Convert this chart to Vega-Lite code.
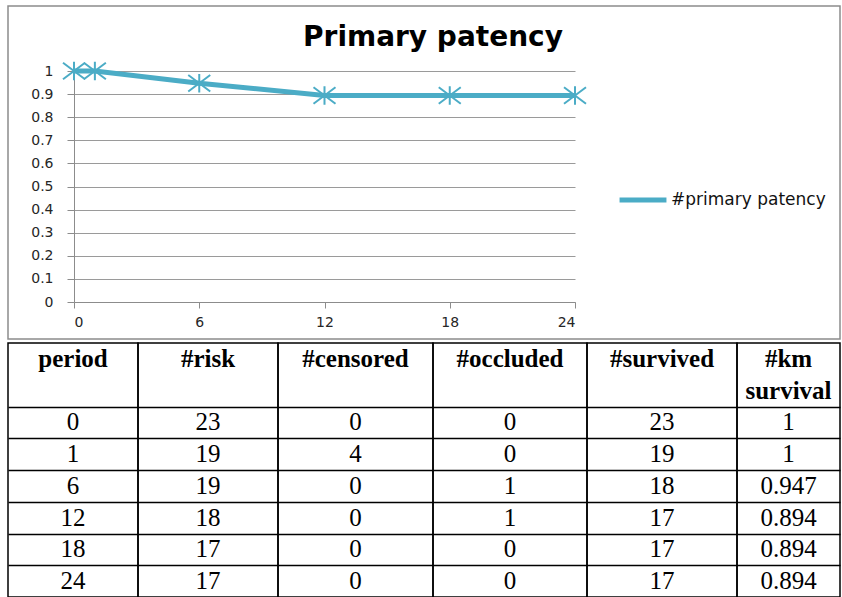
{
  "$schema": "https://vega.github.io/schema/vega-lite/v6.json",
  "padding": {"left": 7, "top": 5, "right": 0, "bottom": 0},
  "background": "white",
  "spacing": 2,
  "config": {"view": {"stroke": null}},
  "datasets": {
    "km": [
      {"month": 0, "km": 1},
      {"month": 1, "km": 1},
      {"month": 6, "km": 0.947},
      {"month": 12, "km": 0.894},
      {"month": 18, "km": 0.894},
      {"month": 24, "km": 0.894}
    ],
    "cells": [
      {"r": "H1", "c": "period", "t": "period"},
      {"r": "H1", "c": "risk", "t": "#risk"},
      {"r": "H1", "c": "censored", "t": "#censored"},
      {"r": "H1", "c": "occluded", "t": "#occluded"},
      {"r": "H1", "c": "survived", "t": "#survived"},
      {"r": "H1", "c": "km", "t": "#km"},
      {"r": "H2", "c": "km", "t": "survival"},
      {"r": "0", "c": "period", "t": "0"},
      {"r": "0", "c": "risk", "t": "23"},
      {"r": "0", "c": "censored", "t": "0"},
      {"r": "0", "c": "occluded", "t": "0"},
      {"r": "0", "c": "survived", "t": "23"},
      {"r": "0", "c": "km", "t": "1"},
      {"r": "1", "c": "period", "t": "1"},
      {"r": "1", "c": "risk", "t": "19"},
      {"r": "1", "c": "censored", "t": "4"},
      {"r": "1", "c": "occluded", "t": "0"},
      {"r": "1", "c": "survived", "t": "19"},
      {"r": "1", "c": "km", "t": "1"},
      {"r": "6", "c": "period", "t": "6"},
      {"r": "6", "c": "risk", "t": "19"},
      {"r": "6", "c": "censored", "t": "0"},
      {"r": "6", "c": "occluded", "t": "1"},
      {"r": "6", "c": "survived", "t": "18"},
      {"r": "6", "c": "km", "t": "0.947"},
      {"r": "12", "c": "period", "t": "12"},
      {"r": "12", "c": "risk", "t": "18"},
      {"r": "12", "c": "censored", "t": "0"},
      {"r": "12", "c": "occluded", "t": "1"},
      {"r": "12", "c": "survived", "t": "17"},
      {"r": "12", "c": "km", "t": "0.894"},
      {"r": "18", "c": "period", "t": "18"},
      {"r": "18", "c": "risk", "t": "17"},
      {"r": "18", "c": "censored", "t": "0"},
      {"r": "18", "c": "occluded", "t": "0"},
      {"r": "18", "c": "survived", "t": "17"},
      {"r": "18", "c": "km", "t": "0.894"},
      {"r": "24", "c": "period", "t": "24"},
      {"r": "24", "c": "risk", "t": "17"},
      {"r": "24", "c": "censored", "t": "0"},
      {"r": "24", "c": "occluded", "t": "0"},
      {"r": "24", "c": "survived", "t": "17"},
      {"r": "24", "c": "km", "t": "0.894"}
    ]
  },
  "vconcat": [
    {
      "width": 832,
      "height": 333,
      "view": {"stroke": "#8c8c8c", "strokeWidth": 1.5},
      "title": {"text": "Primary patency", "font": "DejaVu Sans", "fontSize": 28, "fontWeight": "bold", "color": "#000000", "anchor": "middle", "frame": "group", "offset": -46, "dx": 9},
      "data": {"name": "km"},
      "encoding": {
        "x": {"field": "month", "type": "quantitative", "scale": {"domain": [0, 24], "range": [66, 567], "nice": false, "zero": false},
          "axis": {"values": [0, 6, 12, 18, 24], "tickCount": 5, "offset": -37, "title": null, "grid": false, "domainColor": "#8c8c8c", "tickColor": "#8c8c8c", "tickSize": 6, "labelFont": "DejaVu Sans", "labelFontSize": 14, "labelColor": "#262626", "labelPadding": 7}},
        "y": {"field": "km", "type": "quantitative", "scale": {"domain": [0, 1], "range": [296, 65], "nice": false},
          "axis": {"values": [0, 0.1, 0.2, 0.3, 0.4, 0.5, 0.6, 0.7, 0.8, 0.9, 1], "tickCount": 11, "labelOverlap": false, "format": "~g", "offset": -66, "title": null, "grid": true, "gridColor": "#9a9a9a", "gridWidth": 1, "domainColor": "#8c8c8c", "tickColor": "#8c8c8c", "tickSize": 7, "labelFont": "DejaVu Sans", "labelFontSize": 14, "labelColor": "#262626", "labelPadding": 14}}
      },
      "layer": [
        {
          "mark": {"type": "line", "strokeWidth": 5},
          "encoding": {
            "color": {"datum": "#primary patency", "type": "nominal", "scale": {"range": ["#4BACC6"]},
              "legend": {"orient": "none", "legendX": 609, "legendY": 168, "title": null, "padding": 0, "symbolType": "stroke", "symbolStrokeWidth": 5, "symbolSize": 2200, "labelFont": "DejaVu Sans", "labelFontSize": 17, "labelColor": "#111111", "labelOffset": 2}}
          }
        },
        {
          "mark": {"type": "point", "shape": "M-1,-0.75L1,0.75M-1,0.75L1,-0.75M0,-0.85L0,0.85", "filled": false, "size": 484, "strokeWidth": 2, "color": "#4BACC6", "opacity": 1}
        }
      ]
    },
    {
      "spacing": 0,
      "bounds": "flush",
      "hconcat": [
        {
          "width": 130, "height": 254,
          "view": {"stroke": "black", "strokeWidth": 1.5},
          "data": {"name": "cells"},
          "transform": [{"filter": "datum.c === 'period'"}],
          "encoding": {
            "y": {"field": "r", "type": "ordinal", "scale": {"domain": ["H1", "H2", "0", "1", "6", "12", "18", "24"], "paddingInner": 0, "paddingOuter": 0},
              "axis": {"values": ["0", "1", "6", "12", "18"], "grid": true, "gridColor": "black", "gridWidth": 1.5, "gridOpacity": 1, "tickBand": "extent", "labels": false, "ticks": false, "domain": false, "title": null}},
            "text": {"field": "t", "type": "nominal"}
          },
          "layer": [
            {"transform": [{"filter": "datum.r === 'H1' || datum.r === 'H2'"}], "mark": {"type": "text", "font": "Liberation Serif", "fontSize": 25, "fontWeight": "bold", "color": "black"}},
            {"transform": [{"filter": "datum.r !== 'H1' && datum.r !== 'H2'"}], "mark": {"type": "text", "font": "Liberation Serif", "fontSize": 25, "color": "black"}}
          ]
        },
        {
          "width": 140, "height": 254,
          "view": {"stroke": "black", "strokeWidth": 1.5},
          "data": {"name": "cells"},
          "transform": [{"filter": "datum.c === 'risk'"}],
          "encoding": {
            "y": {"field": "r", "type": "ordinal", "scale": {"domain": ["H1", "H2", "0", "1", "6", "12", "18", "24"], "paddingInner": 0, "paddingOuter": 0},
              "axis": {"values": ["0", "1", "6", "12", "18"], "grid": true, "gridColor": "black", "gridWidth": 1.5, "gridOpacity": 1, "tickBand": "extent", "labels": false, "ticks": false, "domain": false, "title": null}},
            "text": {"field": "t", "type": "nominal"}
          },
          "layer": [
            {"transform": [{"filter": "datum.r === 'H1' || datum.r === 'H2'"}], "mark": {"type": "text", "font": "Liberation Serif", "fontSize": 25, "fontWeight": "bold", "color": "black"}},
            {"transform": [{"filter": "datum.r !== 'H1' && datum.r !== 'H2'"}], "mark": {"type": "text", "font": "Liberation Serif", "fontSize": 25, "color": "black"}}
          ]
        },
        {
          "width": 155, "height": 254,
          "view": {"stroke": "black", "strokeWidth": 1.5},
          "data": {"name": "cells"},
          "transform": [{"filter": "datum.c === 'censored'"}],
          "encoding": {
            "y": {"field": "r", "type": "ordinal", "scale": {"domain": ["H1", "H2", "0", "1", "6", "12", "18", "24"], "paddingInner": 0, "paddingOuter": 0},
              "axis": {"values": ["0", "1", "6", "12", "18"], "grid": true, "gridColor": "black", "gridWidth": 1.5, "gridOpacity": 1, "tickBand": "extent", "labels": false, "ticks": false, "domain": false, "title": null}},
            "text": {"field": "t", "type": "nominal"}
          },
          "layer": [
            {"transform": [{"filter": "datum.r === 'H1' || datum.r === 'H2'"}], "mark": {"type": "text", "font": "Liberation Serif", "fontSize": 25, "fontWeight": "bold", "color": "black"}},
            {"transform": [{"filter": "datum.r !== 'H1' && datum.r !== 'H2'"}], "mark": {"type": "text", "font": "Liberation Serif", "fontSize": 25, "color": "black"}}
          ]
        },
        {
          "width": 154, "height": 254,
          "view": {"stroke": "black", "strokeWidth": 1.5},
          "data": {"name": "cells"},
          "transform": [{"filter": "datum.c === 'occluded'"}],
          "encoding": {
            "y": {"field": "r", "type": "ordinal", "scale": {"domain": ["H1", "H2", "0", "1", "6", "12", "18", "24"], "paddingInner": 0, "paddingOuter": 0},
              "axis": {"values": ["0", "1", "6", "12", "18"], "grid": true, "gridColor": "black", "gridWidth": 1.5, "gridOpacity": 1, "tickBand": "extent", "labels": false, "ticks": false, "domain": false, "title": null}},
            "text": {"field": "t", "type": "nominal"}
          },
          "layer": [
            {"transform": [{"filter": "datum.r === 'H1' || datum.r === 'H2'"}], "mark": {"type": "text", "font": "Liberation Serif", "fontSize": 25, "fontWeight": "bold", "color": "black"}},
            {"transform": [{"filter": "datum.r !== 'H1' && datum.r !== 'H2'"}], "mark": {"type": "text", "font": "Liberation Serif", "fontSize": 25, "color": "black"}}
          ]
        },
        {
          "width": 150, "height": 254,
          "view": {"stroke": "black", "strokeWidth": 1.5},
          "data": {"name": "cells"},
          "transform": [{"filter": "datum.c === 'survived'"}],
          "encoding": {
            "y": {"field": "r", "type": "ordinal", "scale": {"domain": ["H1", "H2", "0", "1", "6", "12", "18", "24"], "paddingInner": 0, "paddingOuter": 0},
              "axis": {"values": ["0", "1", "6", "12", "18"], "grid": true, "gridColor": "black", "gridWidth": 1.5, "gridOpacity": 1, "tickBand": "extent", "labels": false, "ticks": false, "domain": false, "title": null}},
            "text": {"field": "t", "type": "nominal"}
          },
          "layer": [
            {"transform": [{"filter": "datum.r === 'H1' || datum.r === 'H2'"}], "mark": {"type": "text", "font": "Liberation Serif", "fontSize": 25, "fontWeight": "bold", "color": "black"}},
            {"transform": [{"filter": "datum.r !== 'H1' && datum.r !== 'H2'"}], "mark": {"type": "text", "font": "Liberation Serif", "fontSize": 25, "color": "black"}}
          ]
        },
        {
          "width": 103, "height": 254,
          "view": {"stroke": "black", "strokeWidth": 1.5},
          "data": {"name": "cells"},
          "transform": [{"filter": "datum.c === 'km'"}],
          "encoding": {
            "y": {"field": "r", "type": "ordinal", "scale": {"domain": ["H1", "H2", "0", "1", "6", "12", "18", "24"], "paddingInner": 0, "paddingOuter": 0},
              "axis": {"values": ["0", "1", "6", "12", "18"], "grid": true, "gridColor": "black", "gridWidth": 1.5, "gridOpacity": 1, "tickBand": "extent", "labels": false, "ticks": false, "domain": false, "title": null}},
            "text": {"field": "t", "type": "nominal"}
          },
          "layer": [
            {"transform": [{"filter": "datum.r === 'H1' || datum.r === 'H2'"}], "mark": {"type": "text", "font": "Liberation Serif", "fontSize": 25, "fontWeight": "bold", "color": "black"}},
            {"transform": [{"filter": "datum.r !== 'H1' && datum.r !== 'H2'"}], "mark": {"type": "text", "font": "Liberation Serif", "fontSize": 25, "color": "black"}}
          ]
        }
      ]
    }
  ]
}
